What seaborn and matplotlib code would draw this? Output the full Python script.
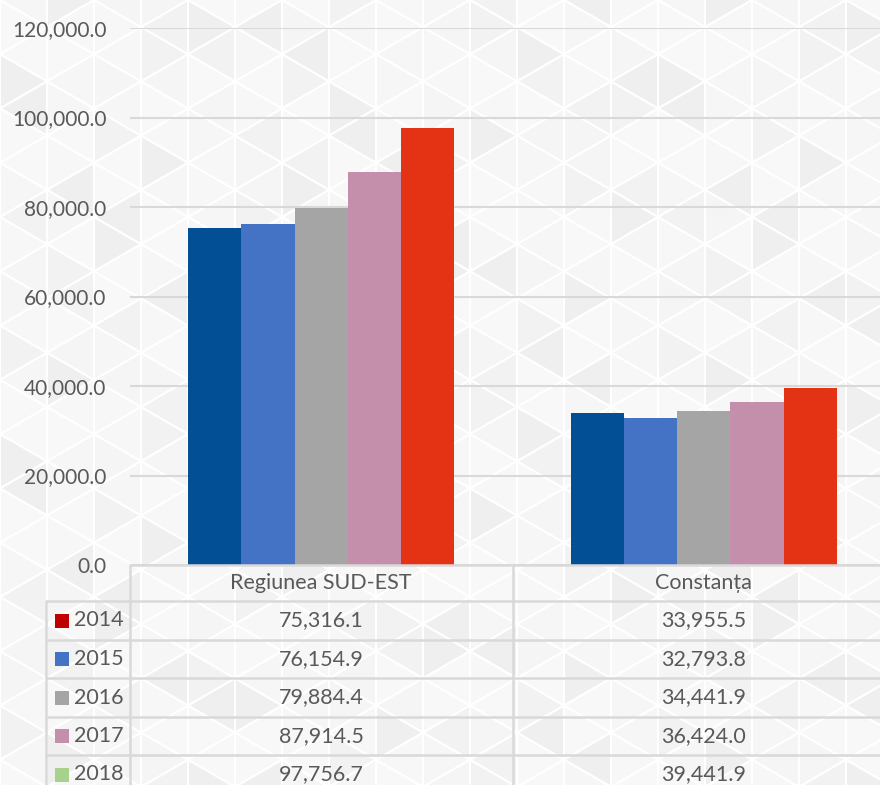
import numpy as np
import pandas as pd
import matplotlib
matplotlib.use("Agg")
import matplotlib.pyplot as plt
from matplotlib.collections import PolyCollection
import seaborn as sns

# Data: regional values by year
regions = ["Regiunea SUD-EST", "Constanța"]
years = ["2014", "2015", "2016", "2017", "2018"]
sud_est = [75316.1, 76154.9, 79884.4, 87914.5, 97756.7]
constanta = [33955.5, 32793.8, 34441.9, 36424.0, 39441.9]
y_ticks = [0, 20000, 40000, 60000, 80000, 100000, 120000]

bar_colors = ["#024F95", "#4472C4", "#A5A5A5", "#C48FAB", "#E33214"]
key_colors = ["#C00000", "#4472C4", "#A5A5A5", "#C48FAB", "#A9D18E"]

rows = []
for r, vals in zip(regions, [sud_est, constanta]):
    for y, v in zip(years, vals):
        rows.append({"region": r, "year": y, "value": v})
df = pd.DataFrame(rows)

sns.set_theme(style="white")
plt.rcParams["font.family"] = ["Lato", "DejaVu Sans"]
TXT = "#595959"
GRID = "#D9D9D9"
FS_TICK = 15
FS_TAB = 15.5

W, H = 880, 785
fig = plt.figure(figsize=(W / 100, H / 100), dpi=100)
fig.patch.set_facecolor("#F7F7F7")

# Background: soft triangular tessellation
bg = fig.add_axes([0, 0, 1, 1], zorder=0)
bg.set_xlim(0, W)
bg.set_ylim(H, 0)
bg.axis("off")
step = 47.0
h = 2 * step / np.sqrt(3)
shades = ["#F8F8F8", "#F6F6F6", "#F2F2F2", "#F8F8F8", "#F5F5F5", "#EFEFEF", "#F7F7F7"]
polys, cols = [], []
for i in range(-1, int(W / step) + 2):
    x0 = i * step
    off = (i % 2) * h / 2
    for j in range(-2, int(H / h) + 3):
        y0 = j * h + off
        polys.append([(x0, y0), (x0, y0 + h), (x0 + step, y0 + h / 2)])
        cols.append(shades[(i * 3 + j * 5) % 7])
        polys.append([(x0 + step, y0 + h / 2), (x0 + step, y0 + 3 * h / 2), (x0, y0 + h)])
        cols.append(shades[(i * 5 + j * 2 + 3) % 7])
bg.add_collection(PolyCollection(polys, facecolors=cols, edgecolors="#FFFFFF", linewidths=1.5))

# Plot area
left_px, right_px, top_px, base_px = 130, 895, 28, 565
ax = fig.add_axes([left_px / W, 1 - base_px / H, (right_px - left_px) / W, (base_px - top_px) / H], zorder=1)
ax.patch.set_alpha(0)
sns.barplot(data=df, x="region", y="value", hue="year", order=regions, hue_order=years,
            palette=dict(zip(years, bar_colors)), width=0.696, saturation=1, gap=0,
            edgecolor="none", legend=False, ax=ax, zorder=3)
ax.set_ylim(0, 120000)
ax.set_xlim(-0.5, 1.5)
ax.set_yticks(y_ticks)
ax.set_yticklabels([f"{v:,.1f}" for v in y_ticks], color=TXT, fontsize=FS_TICK)
ax.tick_params(axis="y", length=0, pad=17)
ax.set_xticks([])
ax.set_xlabel("")
ax.set_ylabel("")
for s in ax.spines.values():
    s.set_visible(False)
ax.grid(axis="y", color=GRID, linewidth=1.5, zorder=0)
ax.set_axisbelow(True)

# Data table below the plot
tb = fig.add_axes([0, 0, 1, 1], zorder=2)
tb.set_xlim(0, W)
tb.set_ylim(H, 0)
tb.axis("off")
lw = 1.8
row_lines = [601, 640, 678, 717, 755, 794]
mid_px = (left_px + right_px) / 2
tb.plot([left_px, right_px], [base_px, base_px], color=GRID, lw=lw, solid_capstyle="butt")
for y in row_lines:
    tb.plot([46, right_px], [y, y], color=GRID, lw=lw, solid_capstyle="butt")
tb.plot([left_px, left_px], [base_px, 794], color=GRID, lw=lw)
tb.plot([mid_px, mid_px], [base_px, 794], color=GRID, lw=lw)
tb.plot([46, 46], [601, 794], color=GRID, lw=lw)

col_centers = [(left_px + mid_px) / 2, (mid_px + right_px) / 2]
for cx, name in zip(col_centers, regions):
    tb.text(cx, 583, name, ha="center", va="center", color=TXT, fontsize=FS_TAB)
for k, yr in enumerate(years):
    cy = (row_lines[k] + row_lines[k + 1]) / 2
    tb.add_patch(plt.Rectangle((55, cy - 7), 14, 14, color=key_colors[k], lw=0))
    tb.text(74, cy, yr, ha="left", va="center", color=TXT, fontsize=FS_TAB)
    for cx, vals in zip(col_centers, [sud_est, constanta]):
        tb.text(cx, cy, f"{vals[k]:,.1f}", ha="center", va="center", color=TXT, fontsize=FS_TAB)

fig.savefig("out.png", dpi=100, facecolor=fig.get_facecolor())
